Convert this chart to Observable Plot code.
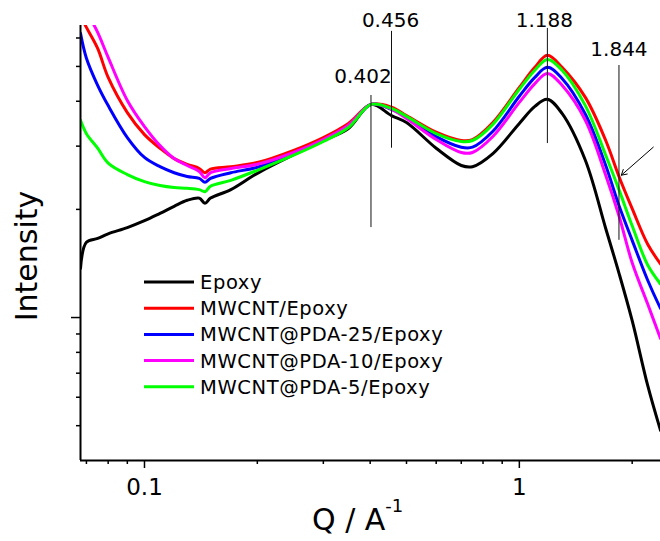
<!DOCTYPE html>
<html><head><meta charset="utf-8">
<script src="https://cdn.jsdelivr.net/npm/d3@7"></script>
<script src="https://cdn.jsdelivr.net/npm/@observablehq/plot@0.6"></script>
<style>
body{margin:0;background:#fff;font-family:"DejaVu Sans",sans-serif;}
#wrap{position:relative;width:660px;height:541px;}
#overlay{position:absolute;left:0;top:0;pointer-events:none;}
</style></head><body><div id="wrap"></div>
<script>
// Q (1/Å) sample positions
const q = [0.0675,0.07,0.075,0.08,0.09,0.1,0.11,0.12,0.13,0.14,0.145,0.15,0.17,0.2,0.25,0.3,0.35,0.402,0.456,0.5,0.6,0.7,0.75,0.85,1.0,1.1,1.188,1.3,1.5,1.7,1.844,2.0,2.2,2.38];
// Intensity (arbitrary units, log scale)
const epoxy   = [1.37,1.62,1.66,1.71,1.78,1.86,1.95,2.04,2.12,2.15,2.08,2.15,2.27,2.52,2.84,3.11,3.36,3.92,3.65,3.49,2.96,2.65,2.63,2.86,3.47,3.87,4.05,3.70,2.74,1.77,1.33,0.98,0.647,0.485];
const mwcnt   = [6.94,6.42,5.61,4.66,3.72,3.23,2.96,2.77,2.67,2.60,2.53,2.59,2.63,2.70,2.92,3.17,3.47,3.92,3.85,3.65,3.28,3.11,3.13,3.49,4.37,4.97,5.37,4.97,4.10,3.11,2.47,2.01,1.60,1.41];
const pda25   = [6.18,5.27,4.43,3.89,3.17,2.79,2.63,2.53,2.47,2.44,2.38,2.44,2.53,2.62,2.86,3.11,3.40,3.92,3.80,3.61,3.19,2.98,2.98,3.30,4.13,4.66,4.97,4.63,3.68,2.65,2.05,1.64,1.27,1.06];
const pda10   = [7.89,7.16,6.22,5.30,4.02,3.40,3.01,2.77,2.65,2.55,2.45,2.53,2.60,2.67,2.88,3.13,3.43,3.92,3.80,3.58,3.13,2.88,2.88,3.19,3.97,4.48,4.78,4.43,3.54,2.49,1.92,1.42,1.09,0.874];
const pda5    = [3.54,3.25,2.96,2.69,2.50,2.39,2.33,2.30,2.29,2.27,2.24,2.32,2.41,2.57,2.83,3.09,3.38,3.92,3.82,3.63,3.25,3.09,3.11,3.45,4.32,4.88,5.23,4.88,3.89,2.83,2.27,1.80,1.40,1.24];

const seriesNames  = ["Epoxy","MWCNT/Epoxy","MWCNT@PDA-25/Epoxy","MWCNT@PDA-10/Epoxy","MWCNT@PDA-5/Epoxy"];
const seriesColors = ["#000000","#ff0000","#0000ff","#ff00ff","#00ff00"];
const seriesValues = [epoxy, mwcnt, pda25, pda10, pda5];

// peak annotations
const peakQ      = [0.402, 0.456, 1.188, 1.844];
const peakLabels = ["0.402","0.456","1.188","1.844"];
const peakTop    = [4.15, 6.26, 6.38, 5.03];
const peakBottom = [1.78, 2.96, 3.05, 1.64];
const arrowQ = [2.277, 1.871];
const arrowI = [2.98, 2.49];

// axis ticks
const xMajor = [0.1, 1];
const xMinor = [0.07,0.08,0.09,0.2,0.3,0.4,0.5,0.6,0.7,0.8,0.9,2];
const yMajor = [1];
const yMinor = [0.5,0.6,0.7,0.8,0.9,2,3,4,5,6];

const peaks = peakQ.map((x,i)=>({x, label: peakLabels[i], top: peakTop[i], bottom: peakBottom[i]}));
const labelOffset = [[-8,-19],[-1,-11],[-3,-8],[0,-16]];

const lineMarks = seriesValues.map((vals, k) =>
  Plot.line(q.map((x,i)=>({x, y: vals[i]})), {x:"x", y:"y", stroke: seriesColors[k], strokeWidth: 3, curve: "catmull-rom", clip: true})
);
const labelMarks = peaks.map((p,i) =>
  Plot.text([p], {x: "x", y: "top", text: "label", lineAnchor: "middle", dx: labelOffset[i][0], dy: labelOffset[i][1], fontSize: 20, fill: "black"})
);

const chart = Plot.plot({
  width: 660, height: 541,
  marginLeft: 80, marginRight: 0, marginTop: 25, marginBottom: 81,
  style: {fontFamily: "DejaVu Sans", background: "white", color: "black"},
  x: {type: "log", domain: [0.0675, 2.38]},
  y: {type: "log", domain: [0.4, 6.5]},
  marks: [
    ...lineMarks,
    Plot.ruleX(peaks, {x: "x", y1: "top", y2: "bottom", stroke: "#111", strokeWidth: 1}),
    ...labelMarks,
    Plot.arrow([0], {x1: () => arrowQ[0], y1: () => arrowI[0], x2: () => arrowQ[1], y2: () => arrowI[1], stroke: "black", strokeWidth: 1, headLength: 9}),
    Plot.axisX(xMajor, {tickSize: 8, tickPadding: 10, fontSize: 23, tickFormat: d => String(d), label: null, strokeWidth: 1.5}),
    Plot.axisX(xMinor, {tickSize: 4, tickFormat: () => "", label: null, strokeWidth: 1.5}),
    Plot.axisY(yMajor, {tickSize: 9, tickFormat: () => "", label: null, strokeWidth: 1.5}),
    Plot.axisY(yMinor, {tickSize: 4, tickFormat: () => "", label: null, strokeWidth: 1.5}),
    Plot.ruleY([0.4], {stroke: "black", strokeWidth: 2}),
    Plot.ruleX([0.0675], {stroke: "black", strokeWidth: 2})
  ]
});
const wrap = document.getElementById("wrap");
wrap.appendChild(chart);

// overlay: axis titles and legend
const ov = d3.select(wrap).append("svg").attr("id","overlay").attr("width",660).attr("height",541)
  .style("font-family","DejaVu Sans");
ov.append("text").attr("transform","translate(37,256) rotate(-90)").attr("text-anchor","middle")
  .attr("font-size",30).attr("fill","black").text("Intensity");
const xt = ov.append("text").attr("x",312).attr("y",530).attr("font-size",30).attr("fill","black");
xt.append("tspan").text("Q / A");
xt.append("tspan").attr("dy",-18).attr("font-size",18).text("-1");

const lg = ov.append("g");
seriesNames.forEach((name,i)=>{
  const y = 282 + i*26.2;
  lg.append("line").attr("x1",144).attr("x2",194).attr("y1",y).attr("y2",y)
    .attr("stroke",seriesColors[i]).attr("stroke-width",3);
  lg.append("text").attr("x",200).attr("y",y).attr("dy","0.36em").attr("font-size",19.5)
    .attr("letter-spacing","0.6px").attr("fill","black").text(name);
});
</script></body></html>
